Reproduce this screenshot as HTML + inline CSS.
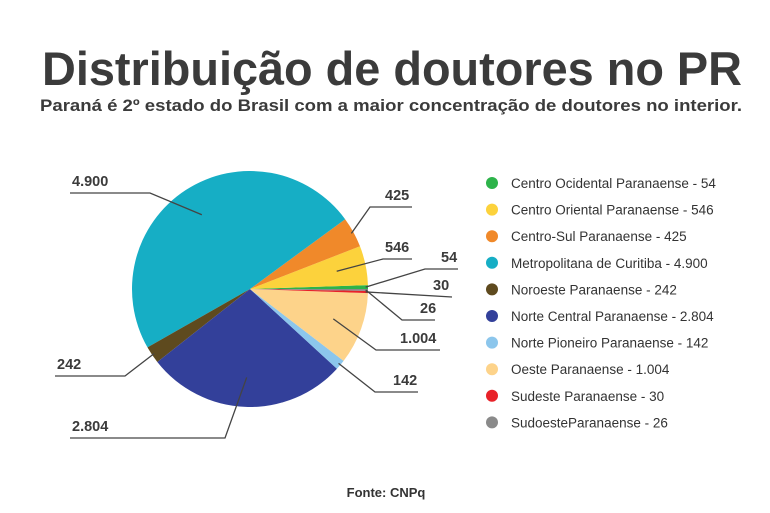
<!DOCTYPE html>
<html><head><meta charset="utf-8"><style>
body{margin:0;background:#fff;}
svg{display:block;font-family:"Liberation Sans",sans-serif;}
</style></head><body>
<svg width="770" height="513" viewBox="0 0 770 513">
<text x="392" y="85" text-anchor="middle" font-size="47" font-weight="bold" fill="#3b3b3b" textLength="700" lengthAdjust="spacingAndGlyphs">Distribuição de doutores no PR</text>
<text x="391" y="111" text-anchor="middle" font-size="17" font-weight="bold" fill="#3b3b3b" textLength="702" lengthAdjust="spacingAndGlyphs">Paraná é 2º estado do Brasil com a maior concentração de doutores no interior.</text>
<g id="pie"></g>
<g id="labels"></g>
<g id="legend"></g>
<text x="386" y="497" text-anchor="middle" font-size="13" font-weight="bold" fill="#333">Fonte: CNPq</text>
</svg>
<script>
const categories=["Centro Ocidental Paranaense","Centro Oriental Paranaense","Centro-Sul Paranaense","Metropolitana de Curitiba","Noroeste Paranaense","Norte Central Paranaense","Norte Pioneiro Paranaense","Oeste Paranaense","Sudeste Paranaense","SudoesteParanaense"];
const values=[54,546,425,4900,242,2804,142,1004,30,26];
const valueLabels=["54","546","425","4.900","242","2.804","142","1.004","30","26"];
const colors=["#2db34a","#fcd23c","#f0892a","#16aec5","#5e4a1e","#33409a","#8cc6ec","#fdd38a","#e82229","#8a8a8a"];
// label layout: [textX, textY, underlineStartX, underlineEndX]
const labelLayout=[[441,262,425,458],[385,252,383,412],[385,200,370,412],[72,186,70,150],[57,369,55,125],[72,431,70,225],[393,385,375,418],[400,343,376,440],[433,290,452,452],[420,313,402,435]];
const ns="http://www.w3.org/2000/svg";
const cx=250,cy=289,r=118;
const total=values.reduce((a,b)=>a+b,0);
const pie=document.getElementById('pie'),lab=document.getElementById('labels'),leg=document.getElementById('legend');
let acc=0;
function pt(a,rr){return [cx+rr*Math.cos(a),cy-rr*Math.sin(a)];}
values.forEach((v,i)=>{
  const a0=acc/total*2*Math.PI; acc+=v; const a1=acc/total*2*Math.PI;
  const p0=pt(a0,r),p1=pt(a1,r);
  const large=(a1-a0)>Math.PI?1:0;
  const p=document.createElementNS(ns,'path');
  p.setAttribute('d',`M${cx},${cy}L${p0[0]},${p0[1]}A${r},${r} 0 ${large} 0 ${p1[0]},${p1[1]}Z`);
  p.setAttribute('fill',colors[i]);
  
  
  pie.appendChild(p);
  const am=(a0+a1)/2; const inner=pt(am, v>500?r*0.75:r*0.98);
  const L=labelLayout[i];
  const ly=L[1]+7;
  const attach=(L[2]<cx)?L[3]:L[2];
  const pl=document.createElementNS(ns,'polyline');
  pl.setAttribute('points',`${inner[0]},${inner[1]} ${attach},${ly} ${L[2]<cx?L[2]:L[3]},${ly}`);
  pl.setAttribute('fill','none');pl.setAttribute('stroke','#444');pl.setAttribute('stroke-width','1.3');
  
  
  lab.appendChild(pl);
  const t=document.createElementNS(ns,'text');
  t.setAttribute('x',L[0]);t.setAttribute('y',L[1]);
  t.setAttribute('font-size','14.5');t.setAttribute('font-weight','bold');t.setAttribute('fill','#3b3b3b');
  t.textContent=valueLabels[i];
  
  
  lab.appendChild(t);
  const y=183+i*26.6;
  const c=document.createElementNS(ns,'circle');
  c.setAttribute('cx',492);c.setAttribute('cy',y);c.setAttribute('r',6);c.setAttribute('fill',colors[i]);
  
  
  leg.appendChild(c);
  const lt=document.createElementNS(ns,'text');
  lt.setAttribute('x',511);lt.setAttribute('y',y+5);lt.setAttribute('font-size','13.5');lt.setAttribute('fill','#333');
  lt.textContent=categories[i]+' - '+(valueLabels[i]);
  
  
  leg.appendChild(lt);
});
</script>
</body></html>
